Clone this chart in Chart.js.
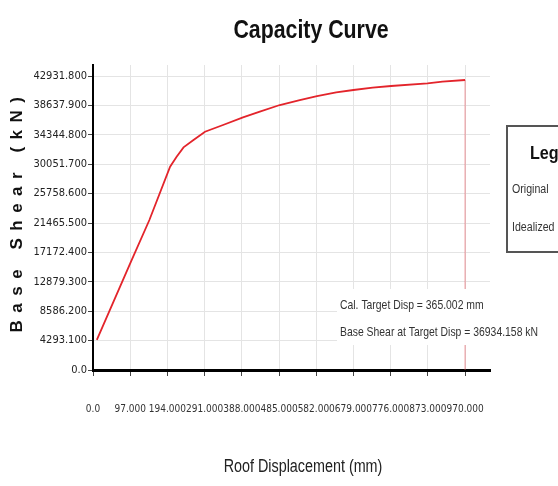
<!DOCTYPE html>
<html>
<head>
<meta charset="utf-8">
<script src="https://cdn.jsdelivr.net/npm/chart.js@4"></script>
<style>
  html, body { margin: 0; padding: 0; background: #fff; }
  #wrap { width: 558px; height: 486px; }
</style>
</head>
<body>
<div id="wrap"><canvas id="capacityChart" width="558" height="486"></canvas></div>
<script>
// capacity curve points
const roofDisp = [10, 97, 147, 201, 218, 236, 262, 292, 339, 391, 435, 487, 539, 584, 634, 679, 729, 777, 872, 911, 970];
const baseShear = [4400, 15575, 21904, 29692, 31152, 32515, 33586, 34803, 35777, 36896, 37724, 38697, 39427, 40011, 40547, 40887, 41228, 41471, 41861, 42105, 42348];

// vertical marker at the last step
const markerDisp = [970, 970];
const markerShear = [0, 42348];

const xTicks = [0, 97, 194, 291, 388, 485, 582, 679, 776, 873, 970];
const xTickLabels = ['0.0', '97.000', '194.000', '291.000', '388.000', '485.000', '582.000', '679.000', '776.000', '873.000', '970.000'];
const yTicks = [0, 4293.1, 8586.2, 12879.3, 17172.4, 21465.5, 25758.6, 30051.7, 34344.8, 38637.9, 42931.8];
const yTickLabels = ['0.0', '4293.100', '8586.200', '12879.300', '17172.400', '21465.500', '25758.600', '30051.700', '34344.800', '38637.900', '42931.800'];

const targetLines = ['Cal. Target Disp = 365.002 mm', 'Base Shear at Target Disp = 36934.158 kN'];
const legendItems = ['Original', 'Idealized'];

const SANS = '"Liberation Sans", Arial, sans-serif';
const CONDENSED = '"DejaVu Sans Condensed", "DejaVu Sans", sans-serif';

// narrow text: squeeze Liberation Sans sideways
function narrowText(c, txt, x, y, font, align, squeeze) {
    c.save();
    c.font = font;
    c.textAlign = align;
    c.textBaseline = 'middle';
    c.translate(x, y);
    c.scale(squeeze || 0.82, 1);
    c.fillText(txt, 0, 0);
    c.restore();
}

// titles, target text box and the legend panel
const decorations = {
    id: 'decorations',
    afterDatasetsDraw(chart) {
        const c = chart.ctx;
        c.save();
        c.fillStyle = '#fff';
        c.fillRect(337, 289, 220, 56);
        c.fillStyle = '#333';
        narrowText(c, targetLines[0], 340, 305, '13px ' + SANS, 'left', 0.8);
        narrowText(c, targetLines[1], 340, 332, '13px ' + SANS, 'left', 0.8);
        c.restore();
    },
    afterDraw(chart) {
        const c = chart.ctx;
        c.save();
        c.fillStyle = '#111';
        narrowText(c, 'Capacity Curve', 311, 31, 'bold 26px ' + SANS, 'center');
        c.fillStyle = '#222';
        narrowText(c, 'Roof Displacement (mm)', 303, 467, '17.5px ' + SANS, 'center');

        // y title, spaced out
        c.translate(17, 215);
        c.rotate(-Math.PI / 2);
        c.font = 'bold 17px ' + SANS;
        c.fillStyle = '#111';
        c.textAlign = 'center';
        c.textBaseline = 'middle';
        c.letterSpacing = '7.5px';
        c.fillText('Base Shear (kN)', 4, 0);
        c.restore();

        // legend panel (runs off the right edge)
        c.save();
        c.fillStyle = '#fff';
        c.strokeStyle = '#555';
        c.lineWidth = 2;
        c.fillRect(507, 126, 80, 126);
        c.strokeRect(507, 126, 80, 126);
        c.fillStyle = '#111';
        narrowText(c, 'Legend', 530, 154, 'bold 19px ' + SANS, 'left', 0.85);
        c.fillStyle = '#333';
        narrowText(c, legendItems[0], 512, 190, '12.5px ' + SANS, 'left', 0.85);
        narrowText(c, legendItems[1], 512, 228, '12.5px ' + SANS, 'left', 0.85);
        c.restore();
    }
};

const ctx = document.getElementById('capacityChart').getContext('2d');

new Chart(ctx, {
    type: 'line',
    data: {
        datasets: [{
            label: 'Original',
            data: roofDisp.map((d, i) => ({ x: d, y: baseShear[i] })),
            borderColor: '#e3242b',
            borderWidth: 1.8,
            pointRadius: 0,
            tension: 0
        }, {
            label: 'Target',
            data: markerDisp.map((d, i) => ({ x: d, y: markerShear[i] })),
            borderColor: 'rgba(230, 80, 90, 0.6)',
            borderWidth: 1,
            pointRadius: 0
        }]
    },
    options: {
        responsive: false,
        animation: false,
        layout: { padding: { left: 0, top: 65, right: 68, bottom: 0 } },
        plugins: {
            legend: { display: false },
            tooltip: { enabled: false },
            title: { display: false }
        },
        scales: {
            x: {
                type: 'linear',
                min: 0,
                max: 1035,
                afterBuildTicks: axis => { axis.ticks = xTicks.map(v => ({ value: v })); },
                afterFit: s => { s.height = 116; },
                ticks: {
                    autoSkip: false,
                    maxRotation: 0,
                    padding: 27,
                    color: '#333',
                    font: { family: CONDENSED, size: 10 },
                    callback: (v, i) => xTickLabels[i]
                },
                grid: { color: '#e4e4e4', tickLength: 6, tickColor: '#444' },
                border: { color: '#000', width: 3 }
            },
            y: {
                min: 0,
                max: 44540,
                afterBuildTicks: axis => { axis.ticks = yTicks.map(v => ({ value: v })); },
                afterFit: s => { s.width = 93; },
                ticks: {
                    autoSkip: false,
                    padding: 1,
                    color: '#222',
                    font: { family: CONDENSED, size: 11 },
                    callback: (v, i) => yTickLabels[i]
                },
                grid: { color: '#e4e4e4', tickLength: 5, tickColor: '#444' },
                border: { color: '#000', width: 2 }
            }
        }
    },
    plugins: [decorations]
});
</script>
</body>
</html>
